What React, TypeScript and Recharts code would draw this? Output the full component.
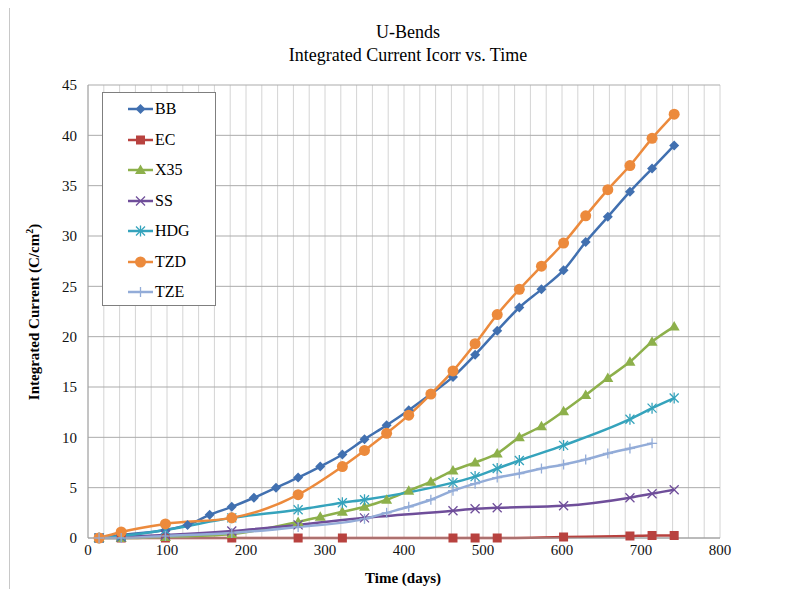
import React from "react";
import { LineChart, Line, XAxis, YAxis, CartesianGrid } from "recharts";

const titleLines = ["U-Bends", "Integrated Current Icorr vs. Time"];
const xTickLabels = [0, 100, 200, 300, 400, 500, 600, 700, 800];
const yTicks = [0, 5, 10, 15, 20, 25, 30, 35, 40, 45];

const bbDays = [14, 42, 98, 126, 154, 182, 210, 238, 266, 294, 322, 350, 378, 406, 434, 462, 490, 518, 546, 574, 602, 630, 658, 686, 714, 742];
const bbVals = [0, 0.3, 0.8, 1.3, 2.3, 3.1, 4.0, 5.0, 6.0, 7.1, 8.3, 9.8, 11.2, 12.7, 14.3, 16.0, 18.2, 20.6, 22.9, 24.7, 26.6, 29.4, 31.9, 34.4, 36.7, 39.0];

const ecDays = [14, 42, 98, 182, 266, 322, 462, 490, 518, 602, 686, 714, 742];
const ecVals = [0, 0, 0, 0, 0, 0, 0, 0, 0, 0.1, 0.2, 0.25, 0.25];

const x35Days = [14, 42, 98, 182, 266, 294, 322, 350, 378, 406, 434, 462, 490, 518, 546, 574, 602, 630, 658, 686, 714, 742];
const x35Vals = [0, 0, 0.1, 0.4, 1.6, 2.1, 2.6, 3.1, 3.8, 4.7, 5.6, 6.7, 7.5, 8.4, 10.0, 11.1, 12.6, 14.2, 15.9, 17.5, 19.5, 21.0];

const ssDays = [14, 42, 98, 182, 266, 350, 462, 490, 518, 602, 686, 714, 742];
const ssVals = [0, 0.1, 0.3, 0.7, 1.3, 2.0, 2.7, 2.9, 3.0, 3.2, 4.0, 4.4, 4.8];

const hdgDays = [14, 42, 98, 182, 266, 322, 350, 462, 490, 518, 546, 602, 686, 714, 742];
const hdgVals = [0, 0.2, 0.8, 2.0, 2.8, 3.5, 3.8, 5.5, 6.1, 6.9, 7.7, 9.2, 11.8, 12.9, 13.9];

const tzdDays = [14, 42, 98, 182, 266, 322, 350, 378, 406, 434, 462, 490, 518, 546, 574, 602, 630, 658, 686, 714, 742];
const tzdVals = [0, 0.6, 1.4, 2.0, 4.3, 7.1, 8.7, 10.4, 12.2, 14.3, 16.6, 19.3, 22.2, 24.7, 27.0, 29.3, 32.0, 34.6, 37.0, 39.7, 42.1];

const tzeDays = [14, 42, 98, 182, 266, 350, 378, 406, 434, 462, 490, 518, 546, 574, 602, 630, 658, 686, 714];
const tzeVals = [0, 0, 0.2, 0.5, 1.1, 1.9, 2.5, 3.1, 3.8, 4.7, 5.4, 6.0, 6.4, 6.9, 7.3, 7.8, 8.4, 8.9, 9.4];

type Shape = "diamond" | "square" | "triangle" | "x" | "star" | "circle" | "plus";

const toPoints = (days: number[], vals: number[]) =>
  days.map((d, i) => ({ x: d, y: vals[i] }));

const series: { name: string; color: string; shape: Shape; data: { x: number; y: number }[] }[] = [
  { name: "BB", color: "#4170B0", shape: "diamond", data: toPoints(bbDays, bbVals) },
  { name: "EC", color: "#B8423F", shape: "square", data: toPoints(ecDays, ecVals) },
  { name: "X35", color: "#8DB04B", shape: "triangle", data: toPoints(x35Days, x35Vals) },
  { name: "SS", color: "#6F4E9A", shape: "x", data: toPoints(ssDays, ssVals) },
  { name: "HDG", color: "#35A3BC", shape: "star", data: toPoints(hdgDays, hdgVals) },
  { name: "TZD", color: "#EC8A3C", shape: "circle", data: toPoints(tzdDays, tzdVals) },
  { name: "TZE", color: "#93ACD8", shape: "plus", data: toPoints(tzeDays, tzeVals) },
];

// minor vertical grid every 20 days
const gridDays: number[] = [];
for (let d = 0; d <= 800; d += 20) gridDays.push(d);

function Marker({ cx, cy, shape, color }: { cx: number; cy: number; shape: Shape; color: string }) {
  if (cx == null || cy == null) return null;
  switch (shape) {
    case "diamond":
      return <polygon points={`${cx},${cy - 5} ${cx + 5},${cy} ${cx},${cy + 5} ${cx - 5},${cy}`} fill={color} />;
    case "square":
      return <rect x={cx - 4.5} y={cy - 4.5} width={9} height={9} fill={color} />;
    case "triangle":
      return <polygon points={`${cx},${cy - 5.5} ${cx + 5.5},${cy + 4} ${cx - 5.5},${cy + 4}`} fill={color} />;
    case "circle":
      return <circle cx={cx} cy={cy} r={5.5} fill={color} />;
    case "x":
      return (
        <g stroke={color} strokeWidth={1.3}>
          <line x1={cx - 4.5} y1={cy - 4.5} x2={cx + 4.5} y2={cy + 4.5} />
          <line x1={cx - 4.5} y1={cy + 4.5} x2={cx + 4.5} y2={cy - 4.5} />
        </g>
      );
    case "star":
      return (
        <g stroke={color} strokeWidth={1.3}>
          <line x1={cx - 4.5} y1={cy - 4.5} x2={cx + 4.5} y2={cy + 4.5} />
          <line x1={cx - 4.5} y1={cy + 4.5} x2={cx + 4.5} y2={cy - 4.5} />
          <line x1={cx} y1={cy - 5.5} x2={cx} y2={cy + 5.5} />
        </g>
      );
    case "plus":
      return (
        <g stroke={color} strokeWidth={1.3}>
          <line x1={cx - 5} y1={cy} x2={cx + 5} y2={cy} />
          <line x1={cx} y1={cy - 5} x2={cx} y2={cy + 5} />
        </g>
      );
  }
  return null;
}

const font = "'Liberation Serif', 'Times New Roman', serif";

export default function App() {
  return (
    <div style={{ position: "relative", width: 809, height: 597, margin: -8, background: "#fff", fontFamily: font, color: "#000" }}>
      <div style={{ position: "absolute", left: 9, top: 0, width: 800, height: 595, borderLeft: "1px solid #c8c8c8", borderBottom: "1px solid #c8c8c8", boxSizing: "border-box" }} />

      <div style={{ position: "absolute", left: 108, top: 21, width: 600, textAlign: "center", fontSize: 18, lineHeight: "23px" }}>
        {titleLines.map((t) => (
          <div key={t}>{t}</div>
        ))}
      </div>

      <LineChart
        width={809}
        height={597}
        margin={{ top: 85, right: 89, bottom: 29, left: 48 }}
        style={{ position: "absolute", left: 0, top: 0 }}
      >
        <CartesianGrid horizontal={false} stroke="#d4d4d4" />
        <CartesianGrid vertical={false} stroke="#ababab" />
        <XAxis
          dataKey="x"
          type="number"
          domain={[0, 800]}
          ticks={gridDays}
          interval={0}
          tickFormatter={(v: number) => (xTickLabels.includes(v) ? String(v) : "")}
          tickLine={false}
          tickSize={0}
          tickMargin={6}
          height={30}
          axisLine={{ stroke: "#a0a0a0" }}
          tick={{ fill: "#111", fontSize: 15, fontFamily: font }}
          allowDuplicatedCategory={false}
        />
        <YAxis
          type="number"
          domain={[0, 45]}
          ticks={yTicks}
          interval={0}
          tickLine={false}
          tickSize={0}
          tickMargin={11}
          width={40}
          axisLine={{ stroke: "#a0a0a0" }}
          tick={{ fill: "#111", fontSize: 15, fontFamily: font }}
        />
        {series.map((s) => (
          <Line
            key={s.name}
            data={s.data}
            dataKey="y"
            name={s.name}
            type="monotone"
            stroke={s.color}
            strokeWidth={2.5}
            isAnimationActive={false}
            activeDot={false}
            dot={(p: any) => (
              <Marker key={`${s.name}-${p.index}`} cx={p.cx} cy={p.cy} shape={s.shape} color={s.color} />
            )}
          />
        ))}
      </LineChart>

      <div
        style={{
          position: "absolute",
          left: 33,
          top: 312,
          transform: "translate(-50%, -50%) rotate(-90deg)",
          whiteSpace: "nowrap",
          fontWeight: "bold",
          fontSize: 15,
        }}
      >
        Integrated Current (C/cm<sup style={{ fontSize: 10 }}>2</sup>)
      </div>

      <div style={{ position: "absolute", left: 303, top: 570, width: 200, textAlign: "center", fontWeight: "bold", fontSize: 15 }}>
        Time (days)
      </div>

      <div
        style={{
          position: "absolute",
          left: 102,
          top: 92,
          width: 114,
          height: 214,
          border: "1px solid #7f7f7f",
          background: "#fff",
          boxSizing: "border-box",
        }}
      >
        {series.map((s, i) => (
          <div key={s.name} style={{ position: "absolute", left: 24, top: 5 + i * 30.5, height: 22, display: "flex", alignItems: "center" }}>
            <svg width={27} height={14}>
              <line x1={1} y1={7} x2={26} y2={7} stroke={s.color} strokeWidth={2.5} />
              <Marker cx={13.5} cy={7} shape={s.shape} color={s.color} />
            </svg>
            <span style={{ fontSize: 16, marginLeft: 1 }}>{s.name}</span>
          </div>
        ))}
      </div>
    </div>
  );
}
